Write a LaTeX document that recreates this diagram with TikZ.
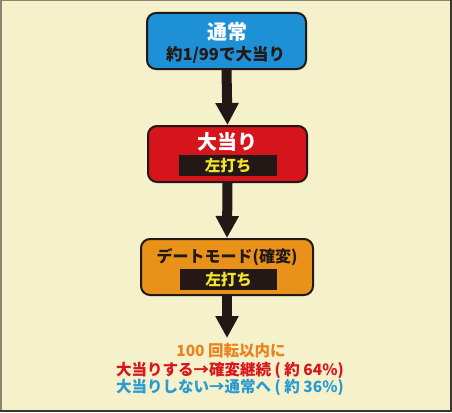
\documentclass[tikz,border=0pt]{standalone}
\usepackage{fontspec}
\setmainfont{Noto Sans CJK JP}
\usetikzlibrary{arrows.meta}
\definecolor{bg}{HTML}{F4F1CB}
\definecolor{framegray}{HTML}{8A8275}
\definecolor{framedark}{HTML}{3A3530}
\definecolor{ink}{HTML}{231815}
\definecolor{boxblue}{HTML}{1E90D6}
\definecolor{boxred}{HTML}{D6141C}
\definecolor{boxorange}{HTML}{E8921A}
\definecolor{labelyellow}{HTML}{F2E52A}
\definecolor{txtorange}{HTML}{E8841E}
\definecolor{txtred}{HTML}{D8161E}
\definecolor{txtblue}{HTML}{2A9BD2}
\tikzset{
  statebox/.style={draw=ink, line width=2pt, rounded corners=9pt, minimum height=56pt, inner sep=0pt},
  tagbox/.style={fill=ink, minimum width=98pt, minimum height=21pt, inner sep=0pt, text=labelyellow, font=\bfseries\fontsize{15.5}{15.5}\selectfont},
  bigarrow/.style={draw=ink, line width=10pt, -{Triangle[length=22pt,width=22pt]}},
  ttl/.style={inner sep=0pt, font=\bfseries\fontsize{20}{20}\selectfont},
  result/.style={inner sep=0pt, font=\bfseries\fontsize{15.5}{15.5}\selectfont}
}
\begin{document}
\begin{tikzpicture}[x=1pt,y=-1pt]
\useasboundingbox (0,0) rectangle (452,412);
\fill[bg] (0,0) rectangle (452,412);
\draw[framegray, line width=1.5pt] (0.75,412) -- (0.75,0.75) -- (452,0.75);
\draw[framedark, line width=2pt] (0,411) -- (451,411) -- (451,0);
% boxes
\node[statebox, fill=boxblue, minimum width=159pt] (b1) at (226.5,41) {};
\node[statebox, fill=boxred, minimum width=159pt] (b2) at (227.5,154) {};
\node[statebox, fill=boxorange, minimum width=172pt] (b3) at (227,267) {};
% box texts
\node[ttl, text=white] (t1) at (227,31.5) {通常};
\node[inner sep=0pt, text=ink, font=\bfseries\fontsize{16.5}{16.5}\selectfont] (s1) at (225.5,55) {約1/99で大当り};
\node[ttl, text=white] (t2) at (227,142) {大当り};
\node[tagbox] (r2) at (228,165.5) {左打ち};
\node[inner sep=0pt, text=ink, font=\bfseries\fontsize{16}{16}\selectfont] (t3) at (227,257) {デートモード(確変)};
\node[tagbox, minimum width=97pt] (r3) at (228.5,279.5) {左打ち};
% arrows
\coordinate (end) at (227,338);
\draw[bigarrow] (b1.south) -- (b2.north);
\draw[bigarrow] (b2.south) -- (b3.north);
\draw[bigarrow] (b3.south) -- (end);
% result text
\node[result, text=txtorange] (l1) at (231,351) {100 回転以内に};
\node[result, text=txtred] (l2) at (230,370) {大当りする→確変継続 ( 約 64\%)};
\node[result, text=txtblue] (l3) at (230,387) {大当りしない→通常へ ( 約 36\%)};
\end{tikzpicture}
\end{document}
